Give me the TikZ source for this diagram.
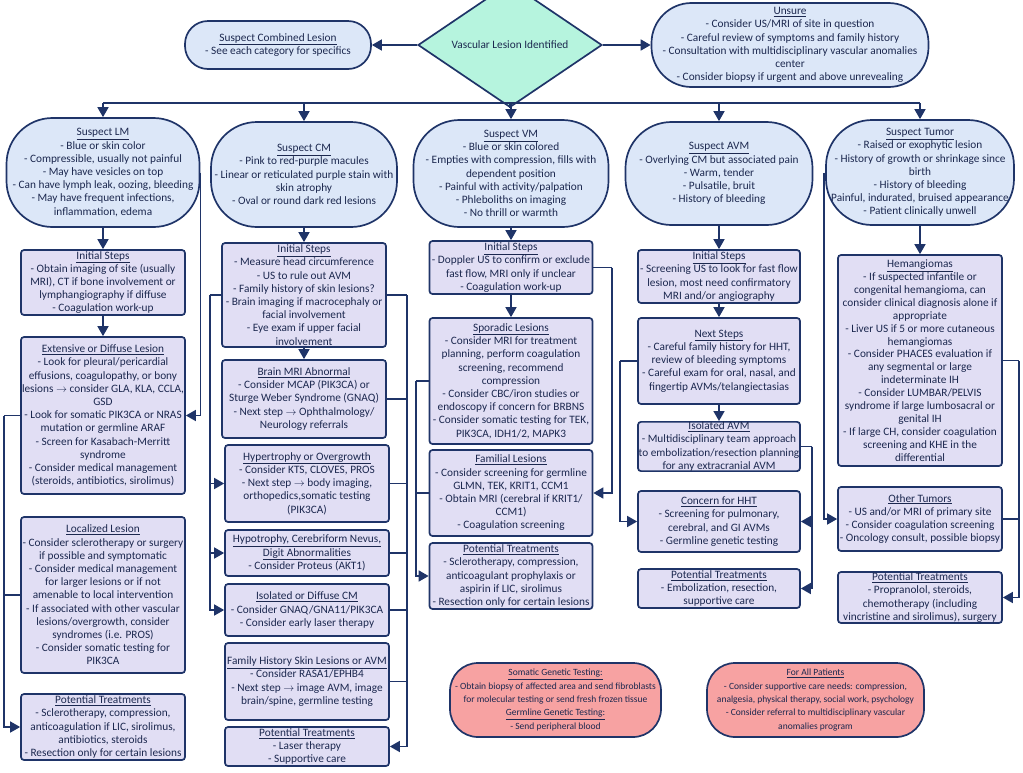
\documentclass[tikz,border=0pt]{standalone}
\usepackage{fontspec}
\setmainfont{Carlito}
\usetikzlibrary{arrows.meta,shapes.geometric}
\definecolor{navy}{HTML}{1F3468}
\definecolor{txt}{HTML}{1C284F}
\definecolor{pillfill}{HTML}{DCE7F8}
\definecolor{boxfill}{HTML}{E1DEF4}
\definecolor{diafill}{HTML}{B6F4DE}
\definecolor{pinkfill}{HTML}{F7A2A2}
\tikzset{
 base/.style={draw=navy, line width=1.7pt, text=txt, align=center, inner sep=0pt, font=\fontsize{11.3}{13.2}\selectfont},
 pill/.style={base, fill=pillfill, rectangle, rounded corners=#1},
 pinkpill/.style={base, fill=pinkfill, rectangle, rounded corners=#1, font=\fontsize{9.5}{13.3}\selectfont},
 box/.style={base, fill=boxfill, rectangle, rounded corners=3pt},
 arr/.style={draw=navy, line width=1.6pt, -{Triangle[width=11pt,length=10pt]}},
 ln/.style={draw=navy, line width=1.6pt},
 sz/.style 2 args={minimum width=#1pt, minimum height=#2pt},
}
\newcommand{\ul}[1]{\raisebox{0pt}[\height][0pt]{\underline{#1}}}
\newcommand{\ar}{$\rightarrow$}
\begin{document}
\begin{tikzpicture}[x=1pt,y=-1pt]
\useasboundingbox (0,0) rectangle (1023,772);
% top
\node[diamond, base, fill=diafill, sz={184}{86}, inner sep=0pt] (dia) at (510,45) {Vascular Lesion Identified};
\node[pill=23pt, sz={186}{48}] (comb) at (278,45) {\ul{Suspect Combined Lesion}\\- See each category for specifics};
\node[pill=40pt, sz={277}{84}] (uns) at (790,45) {\ul{Unsure}\\- Consider US/MRI of site in question\\- Careful review of symptoms and family history\\- Consultation with multidisciplinary vascular anomalies\\center\\- Consider biopsy if urgent and above unrevealing};
% suspect pills
\node[pill=46pt, sz={193}{109}] (lm) at (103,172.5) {\ul{Suspect LM}\\- Blue or skin color\\- Compressible, usually not painful\\- May have vesicles on top\\- Can have lymph leak, oozing, bleeding\\- May have frequent infections,\\inflammation, edema};
\node[pill=46pt, sz={186}{105}] (cm) at (304,174.5) {\ul{Suspect CM}\\- Pink to red-purple macules\\- Linear or reticulated purple stain with\\skin atrophy\\- Oval or round dark red lesions};
\node[pill=46pt, sz={195}{107}] (vm) at (511,173.5) {\ul{Suspect VM}\\- Blue or skin colored\\- Empties with compression, fills with\\dependent position\\- Painful with activity/palpation\\- Phleboliths on imaging\\- No thrill or warmth};
\node[pill=46pt, sz={187}{103}] (avm) at (719,173.5) {\ul{Suspect AVM}\\- Overlying CM but associated pain\\- Warm, tender\\- Pulsatile, bruit\\- History of bleeding};
\node[pill=46pt, sz={188}{105}] (tum) at (920,172.5) {\ul{Suspect Tumor}\\- Raised or exophytic lesion\\- History of growth or shrinkage since\\birth\\- History of bleeding\\Painful, indurated, bruised appearance\\- Patient clinically unwell};
% LM column
\node[box, sz={164}{65}] (lmi) at (103,282.5) {\ul{Initial Steps}\\- Obtain imaging of site (usually\\MRI), CT if bone involvement or\\lymphangiography if diffuse\\- Coagulation work-up};
\node[box, sz={164}{157}] (ext) at (103,415.5) {\ul{Extensive or Diffuse Lesion}\\- Look for pleural/pericardial\\effusions, coagulopathy, or bony\\lesions \ar{} consider GLA, KLA, CCLA,\\GSD\\- Look for somatic PIK3CA or NRAS\\mutation or germline ARAF\\- Screen for Kasabach-Merritt\\syndrome\\- Consider medical management\\(steroids, antibiotics, sirolimus)};
\node[box, sz={164}{156}] (loc) at (103,595) {\ul{Localized Lesion}\\- Consider sclerotherapy or surgery\\if possible and symptomatic\\- Consider medical management\\for larger lesions or if not\\amenable to local intervention\\- If associated with other vascular\\lesions/overgrowth, consider\\syndromes (i.e. PROS)\\- Consider somatic testing for\\PIK3CA};
\node[box, sz={164}{66}] (lmpt) at (103,727) {\ul{Potential Treatments}\\- Sclerotherapy, compression,\\anticoagulation if LIC, sirolimus,\\antibiotics, steroids\\- Resection only for certain lesions};
% CM column
\node[box, sz={164}{104}] (cmi) at (304,295) {\ul{Initial Steps}\\- Measure head circumference\\- US to rule out AVM\\- Family history of skin lesions?\\- Brain imaging if macrocephaly or\\facial involvement\\- Eye exam if upper facial\\involvement};
\node[box, sz={164}{78}] (brain) at (304,399) {\ul{Brain MRI Abnormal}\\- Consider MCAP (PIK3CA) or\\Sturge Weber Syndrome (GNAQ)\\- Next step \ar{} Ophthalmology/\\Neurology referrals};
\node[box, sz={164}{77}] (hyper) at (307,483.5) {\ul{Hypertrophy or Overgrowth}\\- Consider KTS, CLOVES, PROS\\- Next step \ar{} body imaging,\\orthopedics,somatic testing\\(PIK3CA)};
\node[box, sz={164}{46}] (hypo) at (307,553) {\ul{Hypotrophy, Cerebriform Nevus,}\\\ul{Digit Abnormalities}\\- Consider Proteus (AKT1)};
\node[box, sz={164}{52}] (isocm) at (307,610) {\ul{Isolated or Diffuse CM}\\- Consider GNAQ/GNA11/PIK3CA\\- Consider early laser therapy};
\node[box, sz={164}{77}] (fam) at (307,681.5) {\ul{Family History Skin Lesions or AVM}\\- Consider RASA1/EPHB4\\- Next step \ar{} image AVM, image\\brain/spine, germline testing};
\node[box, sz={164}{39}] (cmpt) at (307,746.5) {\ul{Potential Treatments}\\- Laser therapy\\- Supportive care};
% VM column
\node[box, sz={163}{53}] (vmi) at (511,267.5) {\ul{Initial Steps}\\- Doppler US to confirm or exclude\\fast flow, MRI only if unclear\\- Coagulation work-up};
\node[box, sz={163}{126}] (spor) at (511,381) {\ul{Sporadic Lesions}\\- Consider MRI for treatment\\planning, perform coagulation\\screening, recommend\\compression\\- Consider CBC/iron studies or\\endoscopy if concern for BRBNS\\- Consider somatic testing for TEK,\\PIK3CA, IDH1/2, MAPK3};
\node[box, sz={163}{86}] (famil) at (511,493) {\ul{Familial Lesions}\\- Consider screening for germline\\GLMN, TEK, KRIT1, CCM1\\- Obtain MRI (cerebral if KRIT1/\\CCM1)\\- Coagulation screening};
\node[box, sz={163}{66}] (vmpt) at (511,576) {\ul{Potential Treatments}\\- Sclerotherapy, compression,\\anticoagulant prophylaxis or\\aspirin if LIC, sirolimus\\- Resection only for certain lesions};
% AVM column
\node[box, sz={162}{53}] (avmi) at (719,276.5) {\ul{Initial Steps}\\- Screening US to look for fast flow\\lesion, most need confirmatory\\MRI and/or angiography};
\node[box, sz={162}{86}] (next) at (719,361) {\ul{Next Steps}\\- Careful family history for HHT,\\review of bleeding symptoms\\- Careful exam for oral, nasal, and\\fingertip AVMs/telangiectasias};
\node[box, sz={162}{49}] (isoavm) at (719,446.5) {\ul{Isolated AVM}\\- Multidisciplinary team approach\\to embolization/resection planning\\for any extracranial AVM};
\node[box, sz={162}{61}] (hht) at (719,521.5) {\ul{Concern for HHT}\\- Screening for pulmonary,\\cerebral, and GI AVMs\\- Germline genetic testing};
\node[box, sz={162}{39}] (avmpt) at (719,588.5) {\ul{Potential Treatments}\\- Embolization, resection,\\supportive care};
% Tumor column
\node[box, sz={164}{211}, font=\fontsize{11.3}{12.9}\selectfont] (hem) at (920,360.5) {\ul{Hemangiomas}\\- If suspected infantile or\\congenital hemangioma, can\\consider clinical diagnosis alone if\\appropriate\\- Liver US if 5 or more cutaneous\\hemangiomas\\- Consider PHACES evaluation if\\any segmental or large\\indeterminate IH\\- Consider LUMBAR/PELVIS\\syndrome if large lumbosacral or\\genital IH\\- If large CH, consider coagulation\\screening and KHE in the\\differential};
\node[box, sz={164}{64}] (oth) at (920,519) {\ul{Other Tumors}\\- US and/or MRI of primary site\\- Consider coagulation screening\\- Oncology consult, possible biopsy};
\node[box, sz={164}{51}] (tumpt) at (920,597.5) {\ul{Potential Treatments}\\- Propranolol, steroids,\\chemotherapy (including\\vincristine and sirolimus), surgery};
% bottom
\node[pinkpill=28pt, sz={211}{74}] (som) at (555.5,700) {\ul{Somatic Genetic Testing:}\\- Obtain biopsy of affected area and send fibroblasts\\for molecular testing or send fresh frozen tissue\\\ul{Germline Genetic Testing:}\\- Send peripheral blood};
\node[pinkpill=28pt, sz={217}{74}] (all) at (815.5,700) {\ul{For All Patients}\\- Consider supportive care needs: compression,\\analgesia, physical therapy, social work, psychology\\- Consider referral to multidisciplinary vascular\\anomalies program};

% ---- connectors
\draw[arr] (dia.west) -- (comb.east);
\draw[arr] (dia.east) -- (uns.west);
\coordinate (bus) at (510,103);
\draw[ln] (dia.south) -- (bus);
\draw[ln] (lm.north |- bus) -- (tum.north |- bus);
\foreach \n in {lm,cm,vm,avm,tum} \draw[arr] (\n.north |- bus) -- (\n.north);
% LM
\draw[arr] (lm.south) -- (lmi.north);
\draw[arr] (lmi.south) -- (ext.north);
\draw[arr] (lm.east) |- (ext.east);
\coordinate (lml) at (4,415.5);
\draw[ln] (ext.west) -- (lml);
\draw[arr] (lml) |- (lmpt.west);
\draw[ln] (loc.west) -- (loc.west -| lml);
% CM
\draw[arr] (cm.south) -- (cmi.north);
\draw[arr] (cmi.south) -- (brain.north);
\coordinate (cml) at (210,295);
\coordinate (cmr) at (407,295);
\draw[ln] (cmi.west) -- (cml);
\draw[arr] (cml) |- (hyper.west);
\draw[arr] (cml) |- (hypo.west);
\draw[arr] (cml) |- (isocm.west);
\draw[ln] (cmi.east) -- (cmr);
\draw[arr] (cmr) |- (cmpt.east);
\foreach \n in {brain,hyper,hypo,isocm,fam} \draw[ln] (\n.east) -- (\n.east -| cmr);
% VM
\draw[arr] (vm.south) -- (vmi.north);
\draw[arr] (vmi.south) -- (spor.north);
\coordinate (vmr) at (612,267.5);
\draw[ln] (vmi.east) -- (vmr);
\draw[arr] (vmr) |- (famil.east);
\coordinate (vml) at (416,381);
\draw[ln] (spor.west) -- (vml);
\draw[arr] (vml) |- (vmpt.west);
\draw[ln] (famil.west) -- (famil.west -| vml);
% AVM
\draw[arr] (avm.south) -- (avmi.north);
\draw[arr] (avmi.south) -- (next.north);
\draw[arr] (next.south) -- (isoavm.north);
\coordinate (avl) at (620,361);
\draw[ln] (next.west) -- (avl);
\draw[arr] (avl) |- (hht.west);
\coordinate (avr) at (812,446.5);
\draw[ln] (isoavm.east) -- (avr);
\draw[arr] (avr) |- (avmpt.east);
\draw[arr] (avr) |- (hht.east);
% Tumor
\draw[arr] (tum.south) -- (hem.north);
\coordinate (tul) at (824,172.5);
\draw[arr] (tul) |- (oth.west);
\coordinate (tur) at (1019,360.5);
\draw[ln] (hem.east) -- (tur);
\draw[arr] (tur) |- (tumpt.east);
\draw[ln] (oth.east) -- (oth.east -| tur);
\end{tikzpicture}
\end{document}
